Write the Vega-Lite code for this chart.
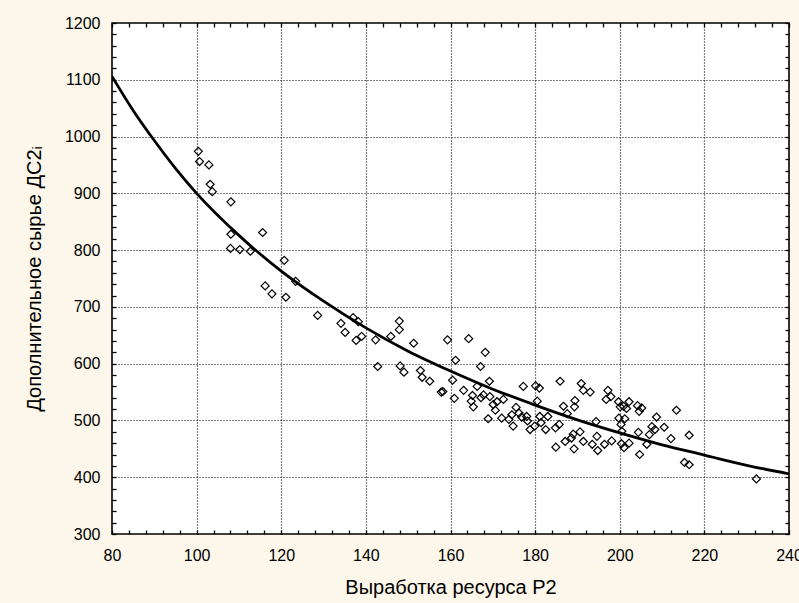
{
  "$schema": "https://vega.github.io/schema/vega-lite/v6.json",
  "width": 677,
  "height": 511,
  "autosize": {"type": "none"},
  "padding": {"left": 112, "top": 23, "right": 10, "bottom": 69},
  "background": "#fcf7ea",
  "config": {
    "view": {"fill": "white", "stroke": "black", "strokeWidth": 1.6},
    "axis": {
      "labelFont": "Liberation Sans", "titleFont": "Liberation Sans",
      "labelFontSize": 16, "titleFontSize": 20, "titleFontWeight": "normal",
      "labelColor": "black", "titleColor": "black",
      "domain": false, "tickColor": "black", "tickWidth": 1.3,
      "gridColor": "black", "gridDash": [1, 2], "gridWidth": 1.2
    }
  },
  "datasets": {
    "curve": [
      {"x": 80, "y": 1106}, {"x": 85, "y": 1046}, {"x": 90, "y": 993}, {"x": 95, "y": 944},
      {"x": 100, "y": 900}, {"x": 110, "y": 826}, {"x": 120, "y": 763}, {"x": 130, "y": 710},
      {"x": 140, "y": 663}, {"x": 150, "y": 622}, {"x": 160, "y": 587}, {"x": 170, "y": 555},
      {"x": 180, "y": 527}, {"x": 190, "y": 501}, {"x": 200, "y": 478}, {"x": 210, "y": 457},
      {"x": 220, "y": 439}, {"x": 230, "y": 421}, {"x": 240, "y": 406}
    ],
    "obs": [
      {"x": 100.4, "y": 974}, {"x": 100.7, "y": 956}, {"x": 102.9, "y": 950}, {"x": 103.2, "y": 916},
      {"x": 103.7, "y": 903}, {"x": 108.1, "y": 885}, {"x": 108.1, "y": 828}, {"x": 108.0, "y": 803},
      {"x": 110.2, "y": 801}, {"x": 112.7, "y": 798}, {"x": 115.6, "y": 831}, {"x": 120.7, "y": 782},
      {"x": 123.4, "y": 745}, {"x": 116.2, "y": 737}, {"x": 117.8, "y": 723}, {"x": 121.1, "y": 717},
      {"x": 128.6, "y": 685}, {"x": 137.0, "y": 681}, {"x": 138.2, "y": 674}, {"x": 134.1, "y": 671},
      {"x": 135.1, "y": 655}, {"x": 139.0, "y": 648}, {"x": 137.7, "y": 641}, {"x": 142.3, "y": 642},
      {"x": 145.9, "y": 648}, {"x": 147.9, "y": 675}, {"x": 147.9, "y": 660}, {"x": 151.3, "y": 636},
      {"x": 159.3, "y": 642}, {"x": 142.8, "y": 595}, {"x": 148.1, "y": 596}, {"x": 149.0, "y": 585},
      {"x": 152.9, "y": 588}, {"x": 153.3, "y": 576}, {"x": 155.1, "y": 569}, {"x": 157.8, "y": 550},
      {"x": 158.2, "y": 551}, {"x": 160.5, "y": 571}, {"x": 164.3, "y": 644}, {"x": 168.2, "y": 620},
      {"x": 161.2, "y": 606}, {"x": 167.1, "y": 595}, {"x": 160.9, "y": 539}, {"x": 163.1, "y": 553},
      {"x": 165.2, "y": 544}, {"x": 164.9, "y": 534}, {"x": 165.4, "y": 524}, {"x": 166.3, "y": 560},
      {"x": 167.2, "y": 540}, {"x": 169.2, "y": 569}, {"x": 167.8, "y": 545}, {"x": 169.3, "y": 542},
      {"x": 170.1, "y": 528}, {"x": 171.0, "y": 533}, {"x": 170.6, "y": 518}, {"x": 168.9, "y": 503},
      {"x": 172.1, "y": 504}, {"x": 172.5, "y": 537}, {"x": 173.8, "y": 502}, {"x": 174.8, "y": 490},
      {"x": 174.5, "y": 510}, {"x": 175.5, "y": 523}, {"x": 176.2, "y": 513}, {"x": 176.8, "y": 506},
      {"x": 177.2, "y": 560}, {"x": 178.0, "y": 507}, {"x": 178.2, "y": 499}, {"x": 178.8, "y": 484},
      {"x": 180.1, "y": 561}, {"x": 181.0, "y": 557}, {"x": 180.5, "y": 534}, {"x": 181.1, "y": 507},
      {"x": 181.4, "y": 496}, {"x": 182.5, "y": 484}, {"x": 183.0, "y": 507}, {"x": 184.9, "y": 453},
      {"x": 184.8, "y": 487}, {"x": 185.7, "y": 493}, {"x": 185.9, "y": 569}, {"x": 186.7, "y": 525},
      {"x": 187.6, "y": 512}, {"x": 190.9, "y": 565}, {"x": 191.4, "y": 553}, {"x": 193.0, "y": 550},
      {"x": 189.4, "y": 535}, {"x": 189.3, "y": 524}, {"x": 189.0, "y": 476}, {"x": 188.6, "y": 469},
      {"x": 187.1, "y": 463}, {"x": 189.2, "y": 450}, {"x": 190.6, "y": 480}, {"x": 191.4, "y": 463},
      {"x": 193.5, "y": 458}, {"x": 194.6, "y": 472}, {"x": 194.4, "y": 498}, {"x": 194.8, "y": 447},
      {"x": 196.4, "y": 458}, {"x": 198.1, "y": 464}, {"x": 197.2, "y": 553}, {"x": 197.9, "y": 542},
      {"x": 196.8, "y": 537}, {"x": 199.7, "y": 533}, {"x": 200.1, "y": 524}, {"x": 200.9, "y": 525},
      {"x": 202.2, "y": 533}, {"x": 201.6, "y": 521}, {"x": 204.2, "y": 526}, {"x": 205.2, "y": 522},
      {"x": 204.6, "y": 516}, {"x": 201.2, "y": 503}, {"x": 199.8, "y": 504}, {"x": 200.3, "y": 493},
      {"x": 200.5, "y": 481}, {"x": 200.4, "y": 459}, {"x": 201.0, "y": 452}, {"x": 202.2, "y": 460},
      {"x": 204.7, "y": 440}, {"x": 204.4, "y": 479}, {"x": 206.4, "y": 458}, {"x": 207.0, "y": 475},
      {"x": 207.6, "y": 489}, {"x": 208.7, "y": 506}, {"x": 208.3, "y": 484}, {"x": 210.5, "y": 488},
      {"x": 212.1, "y": 468}, {"x": 213.4, "y": 518}, {"x": 216.4, "y": 474}, {"x": 215.3, "y": 426},
      {"x": 216.4, "y": 422}, {"x": 232.3, "y": 397}, {"x": 179.9, "y": 490}
    ]
  },
  "layer": [
    {
      "data": {"name": "curve"},
      "mark": {"type": "line", "color": "black", "strokeWidth": 2.8, "interpolate": "monotone", "clip": true},
      "encoding": {
        "x": {
          "field": "x", "type": "quantitative",
          "scale": {"domain": [80, 240], "nice": false, "zero": false},
          "axis": {
            "orient": "bottom", "format": "d",
            "values": [80,84,88,92,96,100,104,108,112,116,120,124,128,132,136,140,144,148,152,156,160,164,168,172,176,180,184,188,192,196,200,204,208,212,216,220,224,228,232,236,240],
            "labelExpr": "datum.value % 20 === 0 ? datum.label : ''",
            "labelFlush": false, "labelOverlap": false,
            "grid": true,
            "gridOpacity": {"condition": {"test": "datum.value % 20 === 0 && datum.value > 80 && datum.value < 240", "value": 1}, "value": 0},
            "offset": -4, "tickSize": 4, "labelPadding": 13,
            "title": "Выработка ресурса Р2", "titlePadding": 14
          }
        },
        "y": {
          "field": "y", "type": "quantitative",
          "scale": {"domain": [300, 1200], "nice": false, "zero": false},
          "axis": {
            "orient": "left", "format": "d",
            "values": [300,320,340,360,380,400,420,440,460,480,500,520,540,560,580,600,620,640,660,680,700,720,740,760,780,800,820,840,860,880,900,920,940,960,980,1000,1020,1040,1060,1080,1100,1120,1140,1160,1180,1200],
            "labelExpr": "datum.value % 100 === 0 ? datum.label : ''",
            "labelFlush": false, "labelOverlap": false,
            "grid": true,
            "gridOpacity": {"condition": {"test": "datum.value % 100 === 0 && datum.value > 300 && datum.value < 1200", "value": 1}, "value": 0},
            "offset": -4, "tickSize": 4, "labelPadding": 12,
            "title": "Дополнительное сырье ДС2ᵢ", "titlePadding": 20
          }
        }
      }
    },
    {
      "data": {"name": "obs"},
      "mark": {"type": "point", "shape": "diamond", "filled": false, "stroke": "black", "strokeWidth": 1.2, "size": 64, "opacity": 1},
      "encoding": {
        "x": {
          "field": "x", "type": "quantitative",
          "axis": {
            "orient": "top",
            "values": [80,84,88,92,96,100,104,108,112,116,120,124,128,132,136,140,144,148,152,156,160,164,168,172,176,180,184,188,192,196,200,204,208,212,216,220,224,228,232,236,240],
            "labels": false, "grid": false, "offset": -4, "tickSize": 4, "title": null
          }
        },
        "y": {
          "field": "y", "type": "quantitative",
          "axis": {
            "orient": "right",
            "values": [300,320,340,360,380,400,420,440,460,480,500,520,540,560,580,600,620,640,660,680,700,720,740,760,780,800,820,840,860,880,900,920,940,960,980,1000,1020,1040,1060,1080,1100,1120,1140,1160,1180,1200],
            "labels": false, "grid": false, "offset": -4, "tickSize": 4, "title": null
          }
        }
      }
    }
  ],
  "resolve": {"axis": {"x": "independent", "y": "independent"}}
}
